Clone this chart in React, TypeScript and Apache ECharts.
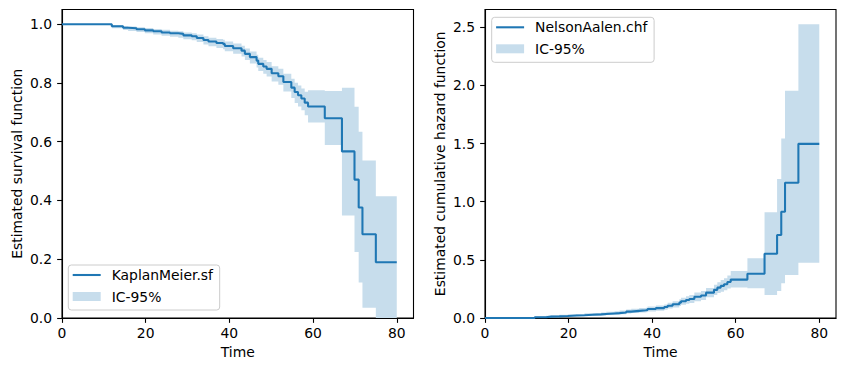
import React, { useEffect, useRef } from "react";
import * as echarts from "echarts";

// Event times (shared by both estimators)
const times = [0, 11.9, 14.6, 15.8, 17.8, 19.8, 21.8, 23.8, 25.8, 27.8, 29.0, 31.0, 32.2, 33.8, 35.0, 36.9, 38.5, 38.9, 40.9, 42.9, 43.7, 44.9, 46.5, 46.9, 48.1, 48.9, 50.1, 51.7, 52.9, 54.8, 55.6, 56.4, 57.2, 58.0, 58.8, 62.8, 66.9, 69.9, 70.9, 71.8, 75.0, 80.0];

// Kaplan-Meier survival function and its 95% band
const kmSurvival = [1.0, 0.993, 0.988, 0.986, 0.983, 0.979, 0.976, 0.972, 0.969, 0.967, 0.962, 0.959, 0.953, 0.946, 0.941, 0.936, 0.933, 0.926, 0.918, 0.910, 0.899, 0.888, 0.876, 0.865, 0.856, 0.848, 0.833, 0.823, 0.803, 0.784, 0.769, 0.758, 0.747, 0.733, 0.720, 0.680, 0.567, 0.471, 0.376, 0.285, 0.190, 0.190];
const kmLower = [1.0, 0.986, 0.980, 0.977, 0.973, 0.969, 0.965, 0.961, 0.957, 0.954, 0.949, 0.945, 0.939, 0.931, 0.925, 0.919, 0.915, 0.908, 0.899, 0.890, 0.878, 0.866, 0.853, 0.841, 0.831, 0.822, 0.805, 0.794, 0.771, 0.749, 0.732, 0.720, 0.707, 0.690, 0.665, 0.589, 0.349, 0.225, 0.121, 0.035, 0.0, 0.0];
const kmUpper = [1.0, 0.997, 0.994, 0.992, 0.990, 0.987, 0.984, 0.981, 0.978, 0.976, 0.972, 0.969, 0.965, 0.959, 0.954, 0.950, 0.947, 0.941, 0.934, 0.927, 0.917, 0.907, 0.896, 0.886, 0.878, 0.871, 0.857, 0.848, 0.831, 0.814, 0.801, 0.791, 0.781, 0.770, 0.775, 0.773, 0.784, 0.719, 0.634, 0.536, 0.414, 0.414];

// Nelson-Aalen cumulative hazard and its 95% band
const naHazard = [0, 0.007, 0.012, 0.014, 0.017, 0.021, 0.024, 0.028, 0.031, 0.034, 0.039, 0.042, 0.048, 0.055, 0.061, 0.066, 0.069, 0.077, 0.085, 0.094, 0.106, 0.118, 0.132, 0.144, 0.155, 0.164, 0.182, 0.194, 0.218, 0.242, 0.261, 0.276, 0.290, 0.309, 0.330, 0.381, 0.553, 0.713, 0.913, 1.162, 1.497, 1.497];
const naLower = [0, 0.002, 0.005, 0.007, 0.009, 0.012, 0.014, 0.017, 0.019, 0.021, 0.025, 0.027, 0.032, 0.038, 0.043, 0.047, 0.050, 0.056, 0.063, 0.071, 0.081, 0.091, 0.103, 0.113, 0.122, 0.130, 0.145, 0.155, 0.178, 0.198, 0.214, 0.226, 0.238, 0.253, 0.262, 0.255, 0.198, 0.232, 0.298, 0.369, 0.475, 0.475];
const naUpper = [0, 0.014, 0.020, 0.023, 0.027, 0.031, 0.035, 0.040, 0.044, 0.047, 0.053, 0.057, 0.064, 0.072, 0.079, 0.085, 0.089, 0.098, 0.107, 0.117, 0.131, 0.145, 0.161, 0.175, 0.188, 0.198, 0.219, 0.233, 0.258, 0.286, 0.308, 0.326, 0.342, 0.365, 0.404, 0.513, 0.908, 1.194, 1.544, 1.953, 2.526, 2.526];

// Tick labels
const xTicks = [0, 20, 40, 60, 80];
const kmTicks = [0, 0.2, 0.4, 0.6, 0.8, 1.0];
const naTicks = [0, 0.5, 1.0, 1.5, 2.0, 2.5];

const LINE = "#1f77b4";
const BAND = "#c7ddec";
const FONT = "DejaVu Sans";
const FS = 13.9;

function bandSeries(name: string, lo: number[], hi: number[], idx: number) {
  return {
    type: "custom",
    name,
    xAxisIndex: idx,
    yAxisIndex: idx,
    clip: true,
    z: 1,
    itemStyle: { color: BAND },
    data: [[0, 0]],
    renderItem: (_params: any, api: any) => {
      const upper: number[][] = [];
      const lower: number[][] = [];
      for (let i = 0; i < times.length - 1; i++) {
        upper.push(api.coord([times[i], hi[i]]));
        upper.push(api.coord([times[i + 1], hi[i]]));
        lower.push(api.coord([times[i], lo[i]]));
        lower.push(api.coord([times[i + 1], lo[i]]));
      }
      const points = upper.concat(lower.reverse());
      return { type: "polygon", shape: { points }, style: { fill: BAND, stroke: null } };
    },
  };
}

function lineSeries(name: string, vals: number[], idx: number) {
  return {
    type: "line",
    name,
    xAxisIndex: idx,
    yAxisIndex: idx,
    step: "end",
    symbol: "none",
    z: 4,
    lineStyle: { color: LINE, width: 2.08 },
    itemStyle: { color: LINE },
    data: times.map((t, i) => [t, vals[i]]),
  };
}

function xAxis(idx: number) {
  return {
    type: "value",
    gridIndex: idx,
    min: 0,
    max: 84,
    z: 3,
    name: "Time",
    nameLocation: "middle",
    nameGap: 27,
    nameTextStyle: { fontFamily: FONT, fontSize: FS, color: "#000" },
    splitLine: { show: false },
    axisLine: { show: true, lineStyle: { color: "#000", width: 1.1 } },
    axisTick: { show: true, length: 4.86, customValues: xTicks, lineStyle: { color: "#000", width: 1.1 } },
    axisLabel: { customValues: xTicks, margin: 8, fontFamily: FONT, fontSize: FS, color: "#000", formatter: (v: number) => String(v) },
  };
}

function yAxis(idx: number, max: number, ticks: number[], name: string) {
  return {
    type: "value",
    gridIndex: idx,
    min: 0,
    max,
    z: 3,
    name,
    nameLocation: "middle",
    nameGap: 38,
    nameTextStyle: { fontFamily: FONT, fontSize: FS, color: "#000" },
    splitLine: { show: false },
    axisLine: { show: true, lineStyle: { color: "#000", width: 1.1 } },
    axisTick: { show: true, length: 4.86, customValues: ticks, lineStyle: { color: "#000", width: 1.1 } },
    axisLabel: { customValues: ticks, margin: 10, fontFamily: FONT, fontSize: FS, color: "#000", formatter: (v: number) => v.toFixed(1) },
  };
}

function legend(names: string[], left: number, top: number) {
  return {
    orient: "vertical",
    left,
    top,
    selectedMode: false,
    itemWidth: 28,
    itemHeight: 9,
    itemGap: 5.5,
    symbolKeepAspect: true,
    padding: [2, 6.7, 5.5, 4.4],
    borderColor: "#cccccc",
    borderWidth: 1,
    borderRadius: 3,
    backgroundColor: "rgba(255,255,255,0.8)",
    textStyle: { fontFamily: FONT, fontSize: FS, color: "#000", lineHeight: 16, padding: [0, 0, 0, 6] },
    data: [
      { name: names[0], icon: "path://M0,0 L28,0 L28,2.08 L0,2.08 Z", itemStyle: { color: LINE } },
      { name: names[1], icon: "rect", itemStyle: { color: BAND } },
    ],
  };
}

export default function App() {
  const ref = useRef<HTMLDivElement>(null);
  useEffect(() => {
    if (!ref.current) return;
    const chart = echarts.init(ref.current, null, { renderer: "svg" });
    chart.setOption({
      animation: false,
      backgroundColor: "#fff",
      textStyle: { fontFamily: FONT },
      grid: [
        { left: 62, top: 9.5, width: 351.5, height: 308.5, show: true, borderColor: "#000", borderWidth: 1.1, backgroundColor: "transparent", containLabel: false },
        { left: 485, top: 9.5, width: 351, height: 308.5, show: true, borderColor: "#000", borderWidth: 1.1, backgroundColor: "transparent", containLabel: false },
      ],
      xAxis: [xAxis(0), xAxis(1)],
      yAxis: [
        yAxis(0, 1.05, kmTicks, "Estimated survival function"),
        yAxis(1, 2.652, naTicks, "Estimated cumulative hazard function"),
      ],
      legend: [
        legend(["KaplanMeier.sf", "IC-95%"], 68.3, 265),
        legend(["NelsonAalen.chf", "IC-95%"], 491.7, 17.3),
      ],
      series: [
        bandSeries("IC-95%", kmLower, kmUpper, 0),
        lineSeries("KaplanMeier.sf", kmSurvival, 0),
        bandSeries("IC-95%", naLower, naUpper, 1),
        lineSeries("NelsonAalen.chf", naHazard, 1),
      ],
    });
    return () => chart.dispose();
  }, []);
  return (
    <div
      ref={ref}
      style={{ position: "fixed", left: 0, top: 0, width: 846, height: 371, background: "#fff" }}
    />
  );
}
